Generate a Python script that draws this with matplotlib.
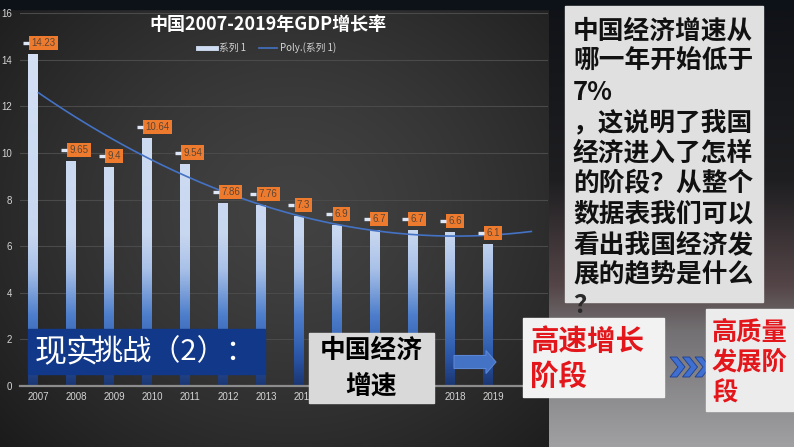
import numpy as np
import matplotlib
matplotlib.use('Agg')
import matplotlib.pyplot as plt
from matplotlib import patches
from matplotlib.colors import LinearSegmentedColormap
from matplotlib.lines import Line2D
from matplotlib.transforms import offset_copy

plt.rcParams['font.family'] = ['Noto Sans CJK SC', 'DejaVu Sans']

# chart data
years = ['2007', '2008', '2009', '2010', '2011', '2012', '2013',
         '2014', '2015', '2016', '2017', '2018', '2019']
growth = [14.23, 9.65, 9.4, 10.64, 9.54, 7.86, 7.76, 7.3, 6.9, 6.7, 6.7, 6.6, 6.1]
chart_title = '中国2007-2019年GDP增长率'
series_name = '系列 1'
trend_name = 'Poly.(系列 1)'
y_ticks = [0, 2, 4, 6, 8, 10, 12, 14, 16]

# slide texts
banner_a = '现实'
banner_b = '挑战（2）：'
topic_lines = ['中国经济', '增速']
stage_old = ['高速增长', '阶段']
stage_new = ['高质量', '发展阶', '段']
question_lines = ['中国经济增速从', '哪一年开始低于', '7%', '，这说明了我国',
                  '经济进入了怎样', '的阶段？从整个', '数据表我们可以',
                  '看出我国经济发', '展的趋势是什么']

W, H = 794, 447
fig = plt.figure(figsize=(7.94, 4.47), dpi=100)
fig.patch.set_facecolor('#1c1c1c')

# ---- background (pixel coords)
bg = fig.add_axes([0, 0, 1, 1], zorder=0)
bg.set_xlim(0, W)
bg.set_ylim(H, 0)
bg.axis('off')

yy, xx = np.mgrid[0:H, 0:549]
r = np.hypot((xx - 290) / 330.0, (yy - 210) / 290.0)
g = 0.26 - 0.12 * np.clip(r, 0, 1.3) ** 1.4
bg.imshow(np.dstack([g, g, g]), extent=(0, 549, H, 0), aspect='auto', zorder=0)

ys = np.arange(H)
stops_y = [0, 180, 285, 330, 447]
cr = np.interp(ys, stops_y, [0.06, 0.12, 0.33, 0.45, 0.63])
cg = np.interp(ys, stops_y, [0.07, 0.12, 0.27, 0.44, 0.63])
cb = np.interp(ys, stops_y, [0.09, 0.13, 0.28, 0.45, 0.64])
right = np.dstack([cr, cg, cb]).reshape(H, 1, 3).repeat(245, axis=1)
bg.imshow(right, extent=(549, W, H, 0), aspect='auto', zorder=0)
bg.add_patch(patches.Rectangle((0, 0), W, 9, color='#0d1219', zorder=1))

# ---- chart
ax = fig.add_axes([20 / W, 1 - 386 / H, 528 / W, 373 / H], zorder=1)
ax.set_facecolor('none')
x = np.arange(len(years))
bw, off = 0.24, -0.145

cmap = LinearSegmentedColormap.from_list('bars', [
    (0.0, '#1b3672'), (1.2 / 16, '#2a55a6'), (3.0 / 16, '#4d7ecb'),
    (5.0 / 16, '#a9c1e8'), (6.5 / 16, '#c8d7f0'), (1.0, '#d6e2f5')])
grad = np.linspace(0, 1, 256).reshape(-1, 1)
bars = ax.bar(x + off, growth, width=bw, color='none', edgecolor='none', zorder=2)
for b in bars:
    im = ax.imshow(grad, extent=(b.get_x(), b.get_x() + b.get_width(), 0, 16),
                   origin='lower', aspect='auto', cmap=cmap, zorder=2)
    im.set_clip_path(b)

# polynomial (order 2) trendline, projected one period forward
coef = np.polyfit(x, growth, 2)
xt = np.linspace(0, len(years), 200)
ax.plot(xt, np.polyval(coef, xt), color='#4472c4', lw=1.2, zorder=3)

lefts = x + off - bw / 2
for xl, v in zip(lefts, growth):
    ax.annotate(f'{v:g}', xy=(xl, v), xytext=(3, 11), textcoords='offset pixels',
                ha='left', va='center', fontsize=7, color='#5c4636',
                family='Liberation Sans',
                bbox=dict(boxstyle='square,pad=0.22', fc='#ee7b2d', ec='none'),
                zorder=5)
ax.plot(lefts, growth, ls='none', marker='_', ms=4, mew=2.4, color='#dde7f7',
        transform=offset_copy(ax.transData, fig=fig, x=-2.5, y=11, units='dots'),
        zorder=6)

ax.set_xlim(-0.488, 13.44)
ax.set_ylim(0, 16)
ax.set_yticks(y_ticks)
ax.set_xticks(x)
ax.set_xticklabels(years)
ax.grid(axis='y', color='#4a4a4a', lw=0.8)
ax.set_axisbelow(True)
for s in ['top', 'right', 'left']:
    ax.spines[s].set_visible(False)
ax.spines['bottom'].set_color('#8c8c8c')
ax.spines['bottom'].set_linewidth(1.6)
ax.tick_params(length=0, colors='#d4d4d4', labelsize=7)
ax.tick_params(axis='y', pad=5.5)
ax.tick_params(axis='x', pad=4)
for lab in ax.get_xticklabels() + ax.get_yticklabels():
    lab.set_family('Liberation Sans')

fig.text(268 / W, 1 - 25 / H, chart_title, ha='center', va='center',
         fontsize=13, weight='bold', color='white')
handles = [Line2D([], [], color='#cfdcf2', lw=3.5),
           Line2D([], [], color='#4472c4', lw=1.2)]
ax.legend(handles, [series_name, trend_name], loc='center',
          bbox_to_anchor=(267 / W, 1 - 48 / H), bbox_transform=fig.transFigure,
          ncol=2, frameon=False, fontsize=7, labelcolor='#d4d4d4',
          handlelength=1.8, handletextpad=0.3, columnspacing=1.4)

# ---- slide overlays (pixel coords)
ov = fig.add_axes([0, 0, 1, 1], zorder=2)
ov.set_xlim(0, W)
ov.set_ylim(H, 0)
ov.axis('off')
ov.set_facecolor('none')

ov.add_patch(patches.Rectangle((28, 329), 237, 45, color='#12388a'))
ov.text(35, 352, banner_a, fontsize=23, color='white', va='center')
ov.text(93, 352, banner_b, fontsize=21, color='white', va='center')

ov.add_patch(patches.Rectangle((309, 333), 125, 70, color='#d9d9d9'))
for i, t in enumerate(topic_lines):
    ov.text(371, 350 + 36 * i, t, fontsize=18.5, weight='bold', color='black',
            ha='center', va='center')

ov.add_patch(patches.FancyArrow(454, 362, 42, 0, width=13, head_width=23,
                                head_length=10, length_includes_head=True,
                                fc='#4472c4', ec='#5a86d6', lw=0.8))

# question box
ov.add_patch(patches.Rectangle((565, 6), 198, 296, color='#e0e0e0', zorder=1))
for i, t in enumerate(question_lines):
    ov.text(573, 31 + 30.5 * i, t, fontsize=18.5, weight='bold', color='#111111',
            va='center', zorder=2)
ov.text(573, 31 + 30.5 * 9, '？', fontsize=18.5, weight='bold', color='#2a2a2a',
        va='center', zorder=2)

ov.add_patch(patches.Rectangle((523, 318), 141, 79, color='#f2f2f2', zorder=3))
for i, t in enumerate(stage_old):
    ov.text(530, 342 + 35 * i, t, fontsize=20.5, weight='bold', color='#e3161b',
            va='center', zorder=4)

for k in range(3):
    x0 = 670 + 12.5 * k
    pts = [(x0, 357), (x0 + 7, 357), (x0 + 15, 367), (x0 + 7, 377),
           (x0, 377), (x0 + 8, 367)]
    ov.add_patch(patches.Polygon(pts, closed=True, fc='#3f6fd0', ec='#1f3f8f',
                                 lw=0.6, zorder=3))

ov.add_patch(patches.Rectangle((706, 309), 88, 102, color='#ececec', zorder=3))
for i, t in enumerate(stage_new):
    ov.text(712, 332 + 30.5 * i, t, fontsize=18.2, weight='bold', color='#e3161b',
            va='center', zorder=4)

fig.savefig('out.png', dpi=100)
